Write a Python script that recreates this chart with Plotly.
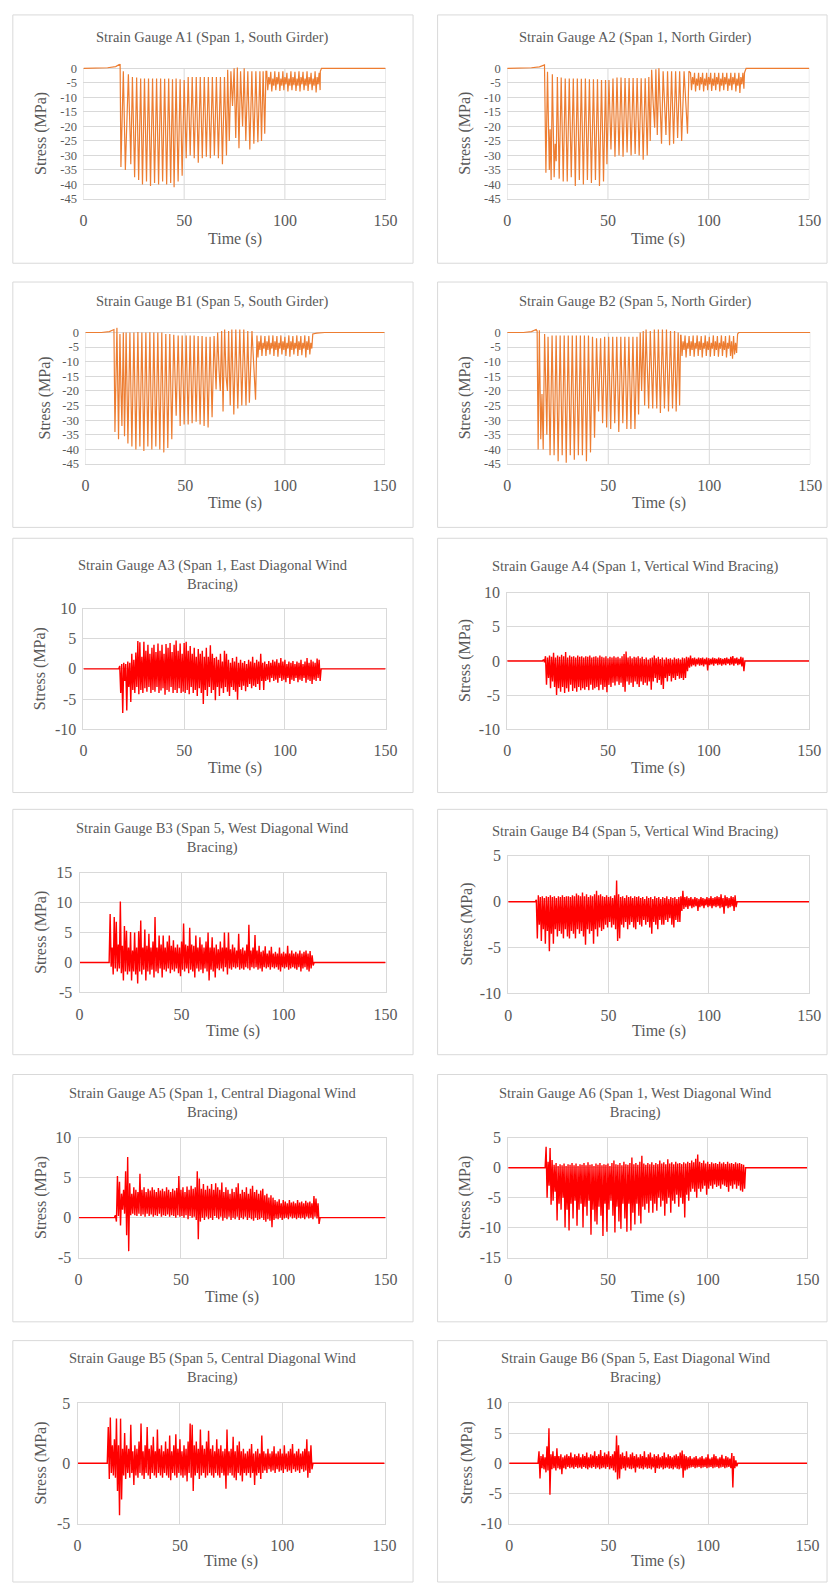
import plotly.graph_objects as go

W, H = 840, 1592
ORANGE = "#ED7D31"
RED = "#FF0000"
GRID = "#D9D9D9"
TXT = "#595959"
FONT = "'Liberation Serif', 'Times New Roman', Times, serif"

# ---------------- tick labels ----------------
x_tickvals = [0, 50, 100, 150]
x_ticktext = ["0", "50", "100", "150"]

# ---------------- girder gauges (vertex lists: time s, stress MPa) ----------------
a1_pts = [(0, 0), (8, 0), (12, 0.2), (16, 0.6), (18.2, 1.5), (18.6, -34), (19.8, -1), (20.8, -35),
          (21.6, -19), (22.3, -2), (23.2, -24), (23.5, -33), (24.3, -3), (25.4, -37.5), (26.4, -3.2),
          (27.4, -38.5), (28.4, -3.5), (29.3, -40), (30.3, -3.5), (31.3, -39), (32.3, -3.5), (33.3, -40.5),
          (34.3, -3.5), (35.3, -39.5), (36.3, -3.5), (37.3, -40), (38.3, -3.5), (39.3, -39), (40.3, -3.6),
          (41.3, -40), (42.3, -3.5), (43.3, -39.5), (44.2, -3.8), (45.0, -41), (46.0, -3.5), (47.0, -39),
          (48.0, -3.8), (49.0, -37), (50.0, -4), (51.0, -31), (52.0, -3), (53.0, -30), (54.0, -3),
          (55.0, -31), (56.0, -3), (57.0, -32.5), (58.0, -3), (59.0, -31), (60.0, -3), (61.0, -30.5),
          (62.0, -3), (63.0, -31), (64.0, -3), (65.0, -30), (66.0, -3), (67.0, -31), (68.0, -3),
          (69.0, -33), (70.0, -3), (71.0, -30), (71.6, -0.5), (72.4, -25), (73.2, -1), (74.0, -13),
          (74.8, 0), (75.6, -24), (76.4, 0.3), (77.2, -27.5), (78.0, -1), (79.0, -20), (79.8, 0),
          (80.6, -25), (81.6, -1), (82.6, -28), (83.6, -1), (84.6, -26), (85.6, -1), (86.6, -25.5),
          (87.6, -1), (88.4, -25), (89.2, -1), (90.0, -22.5), (90.6, -1)]
a1_tail_t0 = 91
a1_tail_hi = [-1, -3, -1.2, -3.5, -1, -3, -1.2, -3.5, -1, -3, -1.5, -3.5, -1, -3, -1.2, -3.5,
              -1, -3, -1.2, -3.5, -1, -3, -1.5, -3.5, -1, -3, -1.5]
a1_tail_lo = [-7.5, -5.5, -8, -6, -7.5, -5.5, -7.8, -6, -7.5, -5.5, -8, -6, -7.5, -5.8, -7.8, -6,
              -8, -5.5, -7.5, -6, -7.8, -5.5, -7.5, -6, -8.3, -5.5, -7.5]
a1_end = [(117.6, -1), (118.2, 0), (150, 0)]

a2_pts = [(0, 0), (10, 0), (12, 0.2), (16, 0.5), (18.5, 1.2), (19.2, -36), (20.0, -1.2), (20.9, -35),
          (21.3, -21), (21.8, -38.5), (22.4, -2), (23.3, -37.5), (23.8, -26), (24.3, -32), (24.9, -3),
          (25.8, -38), (26.8, -3.2), (27.8, -39), (28.8, -3.5), (29.8, -39), (30.8, -3.5), (31.8, -37.5),
          (32.8, -3.5), (33.8, -40.5), (34.8, -3.5), (35.8, -38.5), (36.8, -3.6), (37.8, -40), (38.8, -3.5),
          (39.8, -38.5), (40.8, -3.8), (41.8, -39.5), (42.8, -3.8), (43.8, -38.5), (44.8, -3.8),
          (45.8, -40.5), (46.8, -4), (47.8, -39), (48.8, -4), (49.5, -33), (50.5, -4), (51.5, -28),
          (52.5, -3.5), (53.5, -30.5), (54.5, -3.2), (55.5, -30), (56.5, -3.2), (57.5, -30.5),
          (58.5, -3.3), (59.5, -29), (60.5, -3.3), (61.5, -30), (62.5, -3.3), (63.5, -29.5), (64.5, -3.3),
          (65.5, -30), (66.5, -3.4), (67.5, -31.5), (68.5, -3.4), (69.5, -30), (70.3, -3), (71.0, -25),
          (71.7, -0.5), (72.5, -12.5), (73.2, -20.5), (73.8, -0.3), (74.5, -23), (75.3, 0), (76.0, -14.5),
          (76.6, -26), (77.4, -1), (78.2, -17), (78.8, -23), (79.6, -1), (80.6, -26.5), (81.6, -1),
          (82.6, -26), (83.6, -1), (84.6, -24), (85.6, -1), (86.6, -25), (87.8, -1), (89.5, -22.5),
          (90.2, -1)]
a2_tail_t0 = 91
a2_tail_hi = [-1.5, -3, -1.5, -3.5, -1.5, -3, -1.5, -3.5, -1.5, -3, -1.5, -3.5, -1.5, -3, -1.5, -3.5,
              -1.5, -3, -1.5, -3.5, -1.5, -3, -1.5, -3.5, -1.5, -3, -1.5]
a2_tail_lo = [-7.5, -5.5, -8, -6, -7.5, -5.5, -8, -6, -7.5, -5.5, -7.8, -6, -7.5, -5.5, -8, -6,
              -7.5, -5.5, -7.8, -6, -7.5, -5.5, -8, -6, -8.5, -5.5, -7]
a2_end = [(117.8, -1.5), (118.6, 0), (150, 0)]

b1_pts = [(0, 0), (8, 0), (12, 0.3), (14.3, 1.0), (14.8, -34), (15.4, 0.5), (15.8, 1.8), (16.6, -36.5),
          (17.3, -0.5), (17.8, -19), (18.3, -32), (19.0, 0), (19.6, -35.5), (19.9, -24), (20.4, 0),
          (21.3, -38), (22.3, 0), (23.3, -39), (24.3, 0), (25.3, -40), (26.3, 0.2), (27.3, -39), (28.3, 0),
          (29.3, -40.5), (30.3, 0), (31.3, -39), (32.3, 0.1), (33.3, -40), (34.3, 0), (35.3, -39),
          (36.3, 0), (37.3, -40), (38.3, 0), (39.3, -41), (40.3, -0.5), (41.3, -39.5), (42.3, -0.5),
          (43.3, -36.5), (44.3, -0.8), (45.5, -28.5), (46.5, -1), (47.5, -32), (48.5, -1), (49.5, -31.5),
          (50.5, -1), (51.5, -31.5), (52.5, -1), (53.5, -31), (54.5, -1), (55.5, -30.5), (56.5, -1.2),
          (57.5, -31.5), (58.5, -1.2), (59.5, -32), (60.5, -1.5), (61.5, -32.5), (62.5, -1.5),
          (63.5, -29), (64.5, -1.2), (65.5, -19.5), (66.3, 0), (67.0, -13), (67.6, -20), (68.3, 0.5),
          (69.0, -27), (69.8, 1), (70.5, -15), (71.2, -20), (71.8, 0.5), (72.6, -25), (73.4, 1),
          (74.4, -28), (75.4, 1), (76.4, -26), (77.4, 1), (78.4, -25), (79.4, 1), (80.5, -25),
          (81.4, 0.5), (82.2, -24), (83.5, 0.5), (85.3, -23), (85.8, -1)]
b1_tail_t0 = 86
b1_tail_hi = [-1, -3, -1, -3.5, -1.2, -3, -1, -3.5, -1, -3, -1.2, -3.5, -1, -3, -1.5, -3.5,
              -1, -3, -1.2, -3.5, -1, -3, -1.2, -3.5, -1, -3, -1.2, -3.5]
b1_tail_lo = [-8.5, -6, -8, -5.5, -8, -6, -7.5, -5.5, -8, -6, -8.3, -5.5, -7.5, -6, -8, -5.5,
              -8.3, -6, -7.5, -5.5, -8, -6, -7.8, -5.5, -8.5, -6, -7.5, -5.5]
b1_end = [(114, -0.5), (116, -0.2), (120, 0), (150, 0)]

b2_pts = [(0, 0), (8, 0), (12, 0.3), (14.3, 1.0), (14.8, 0.5), (15.3, -40), (15.9, 0.8), (16.6, -36.5),
          (17.2, -21), (17.8, -40), (18.5, -0.5), (19.2, -28), (19.6, -35), (20.2, -1.5), (21.2, -42),
          (22.2, -1), (23.2, -42), (24.2, -1), (25.2, -44), (26.2, -1), (27.2, -42), (28.2, -1),
          (29.2, -44.5), (30.2, -1), (31.2, -42), (32.2, -1), (33.2, -43.5), (34.2, -1), (35.2, -42),
          (36.2, -1), (37.2, -42), (38.2, -1), (39.2, -44), (40.2, -1), (41.2, -41), (42.2, -1.5),
          (43.2, -36), (44.2, -2), (45.2, -27), (46.2, -2), (47.2, -31), (48.2, -1.5), (49.2, -32.5),
          (50.2, -1.5), (51.2, -33), (52.2, -1.5), (53.2, -31), (54.2, -1.5), (55.2, -34), (56.2, -1.5),
          (57.2, -31), (58.2, -1.5), (59.2, -33), (60.2, -1.5), (61.2, -33), (62.2, -1.5), (63.2, -33),
          (64.2, -1.5), (65.0, -28), (65.8, 0), (66.5, -20), (67.3, 0.5), (68.0, -25), (68.7, 1),
          (69.3, -13), (70.0, -26), (70.8, 0.5), (71.5, -14), (72.0, -26), (72.8, 1), (73.5, -20),
          (74.0, -26), (74.8, 1), (75.8, -27.5), (76.8, 1), (77.8, -26), (78.8, 1), (79.8, -27),
          (80.8, 0.5), (81.8, -26), (82.8, 0.5), (83.6, -27), (84.6, 0), (85.3, -25), (85.8, -1)]
b2_tail_t0 = 86
b2_tail_hi = [-1, -3, -1, -3.5, -1.2, -3, -1, -3.5, -1, -3, -1.2, -3.5, -1, -3, -1.5, -3.5,
              -1, -3, -1.2, -3.5, -1, -3, -1.2, -3.5, -1, -3, -1.2, -3.5]
b2_tail_lo = [-8, -6, -8.5, -5.5, -8, -6, -8.3, -5.5, -8, -6, -8.5, -5.5, -8, -6, -8.3, -5.5,
              -8, -6, -8.3, -5.5, -8, -6, -8.5, -5.5, -8, -9, -7.5, -7]
b2_end = [(114, -0.5), (114.6, 0), (150, 0)]

# ---------------- bracing gauges: per-second peaks (hi) and troughs (lo) ----------------
a3_t0 = 18
a3_hi = [0.5, 0.8, 1.0, 0.8, 1.2, 1.0, 2.5, 1.5, 2.7, 4.6,
         4.4, 2.0, 4.5, 3.0, 4.0, 2.5, 3.5, 4.0, 2.8, 4.2,
         3.0, 4.0, 2.5, 4.1, 3.5, 4.3, 2.8, 4.0, 4.7, 3.0,
         4.2, 2.5, 4.3, 4.5, 3.0, 3.8, 2.5, 3.5, 2.0, 3.3,
         2.5, 3.0, 2.0, 3.5, 2.0, 3.9, 2.5, 1.8, 2.0, 1.5,
         2.5, 1.2, 3.0, 2.5, 1.5, 1.0, 1.8, 1.2, 2.0, 1.0,
         1.5, 1.0, 1.3, 0.8, 1.5, 1.2, 2.0, 1.0, 1.5, 1.2,
         2.5, 1.0, 1.2, 0.8, 1.3, 1.0, 1.5, 1.2, 1.6, 1.0,
         1.8, 1.2, 1.5, 0.8, 1.2, 1.0, 1.3, 0.8, 1.2, 1.0,
         1.5, 0.8, 1.2, 1.8, 1.0, 1.5, 1.2, 1.0, 1.7, 1.5]
a3_lo = [-4.0, -7.3, -2.0, -6.9, -3.0, -5.5, -3.5, -4.0, -3.0, -4.2,
         -3.5, -4.0, -3.2, -3.8, -3.0, -4.0, -3.5, -3.8, -3.0, -4.0,
         -3.6, -3.2, -4.3, -3.5, -3.8, -3.0, -4.0, -3.5, -4.0, -3.2,
         -4.0, -3.8, -4.0, -3.5, -4.2, -3.0, -4.0, -3.5, -4.5, -3.2,
         -4.0, -5.8, -3.5, -4.5, -3.0, -4.0, -3.5, -5.2, -3.0, -4.5,
         -3.2, -4.0, -3.0, -3.8, -4.5, -3.0, -3.5, -3.8, -5.1, -3.0,
         -3.5, -2.8, -3.7, -3.0, -2.5, -3.2, -2.8, -3.0, -2.5, -3.5,
         -2.0, -3.5, -2.0, -1.8, -2.2, -1.5, -2.0, -1.8, -2.3, -1.5,
         -2.0, -1.8, -2.2, -1.5, -2.5, -1.8, -2.0, -1.5, -2.2, -1.8,
         -2.0, -1.5, -2.3, -1.8, -2.0, -2.5, -1.8, -2.0, -1.5, -2.0]

a4_t0 = 18
a4_hi = [0.2, 0.7, 0.5, 0.8, 0.6, 1.2, 0.5, 0.8, 0.6, 0.9,
         0.7, 1.3, 0.5, 0.8, 0.6, 0.7, 0.5, 0.8, 0.6, 0.7,
         0.5, 0.7, 0.6, 0.8, 0.5, 0.6, 0.7, 0.5, 0.8, 0.6,
         0.5, 0.7, 0.4, 0.6, 0.5, 0.7, 0.5, 0.6, 0.4, 0.7,
         1.0, 1.4, 0.5, 0.7, 0.4, 0.6, 0.5, 0.7, 0.4, 0.6,
         0.3, 0.5, 0.2, 0.4, 0.5, 0.8, 0.4, 0.6, 0.3, 0.5,
         0.2, 0.5, 0.3, 0.4, 0.2, 0.5, 0.3, 0.4, 0.2, 0.5,
         0.4, 0.6, 0.5, 0.8, 0.4, 0.5, 0.3, 0.5, 0.4, 0.5,
         0.3, 0.5, 0.4, 0.3, 0.5, 0.4, 0.3, 0.5, 0.4, 0.3,
         0.4, 0.5, 0.3, 0.6, 0.7, 0.4, 0.5, 0.3, 0.6, 0.5]
a4_lo = [-0.2, -3.5, -2.5, -4.0, -3.0, -3.8, -5.0, -4.0, -4.5, -3.8,
         -4.7, -4.0, -4.5, -3.5, -4.4, -4.0, -4.5, -3.8, -4.3, -4.0,
         -4.2, -3.8, -4.3, -3.5, -4.2, -4.0, -3.8, -4.3, -3.5, -4.2,
         -3.8, -4.6, -3.5, -3.8, -3.2, -3.6, -3.0, -3.5, -3.2, -3.8,
         -4.5, -3.0, -3.5, -3.2, -3.8, -3.0, -3.4, -3.8, -3.0, -3.5,
         -3.2, -3.6, -3.0, -4.2, -3.0, -2.5, -3.2, -2.8, -3.5, -4.1,
         -2.5, -3.0, -2.2, -3.0, -2.5, -2.8, -2.2, -2.6, -2.5, -2.8,
         -2.5, -1.5, -1.0, -0.8, -0.6, -0.8, -0.5, -0.7, -0.6, -0.8,
         -0.5, -1.4, -0.6, -0.5, -0.7, -0.4, -0.6, -0.5, -0.7, -0.5,
         -0.6, -0.4, -0.6, -0.5, -0.7, -0.4, -0.6, -0.5, -0.8, -1.5]

b3_t0 = 15
b3_hi = [8.1, 2.5, 7.6, 6.8, 3.0, 10.2, 2.8, 6.1, 5.3, 2.5,
         5.1, 2.0, 5.0, 2.5, 5.2, 7.0, 2.5, 5.5, 2.8, 4.8,
         2.5, 3.5, 7.6, 2.5, 4.5, 3.0, 4.5, 2.5, 3.5, 4.5,
         2.8, 3.7, 2.5, 3.0, 2.5, 3.5, 6.5, 3.0, 2.8, 5.8,
         3.0, 2.8, 4.5, 2.5, 4.2, 3.0, 2.5, 3.5, 5.0, 2.5,
         4.2, 2.5, 3.0, 2.2, 3.5, 2.5, 5.0, 2.5, 5.0, 2.2,
         3.0, 2.5, 2.0, 4.8, 2.2, 2.5, 2.0, 3.0, 6.3, 2.0,
         2.5, 4.6, 2.0, 2.8, 1.8, 2.0, 2.7, 1.5, 2.0, 2.6,
         1.5, 1.8, 1.5, 2.5, 1.5, 1.8, 1.5, 2.8, 1.5, 2.0,
         1.5, 1.8, 1.5, 2.0, 1.5, 1.8, 2.0, 1.5, 1.9, 1.2]
b3_lo = [-0.7, -2.0, -1.0, -1.5, -1.0, -1.8, -3.0, -1.5, -2.0, -1.5,
         -3.0, -1.5, -2.0, -3.5, -1.5, -2.0, -1.2, -3.0, -1.5, -2.0,
         -1.2, -2.5, -1.5, -1.8, -1.0, -2.5, -1.2, -1.5, -1.0, -1.8,
         -1.2, -1.5, -1.0, -1.8, -2.3, -1.2, -1.5, -1.0, -1.8, -1.2,
         -1.5, -2.5, -1.0, -1.5, -1.2, -1.8, -1.0, -1.5, -3.0, -1.2,
         -1.5, -2.5, -1.0, -1.3, -1.0, -1.5, -0.8, -2.0, -1.0, -1.2,
         -0.8, -1.0, -0.8, -1.2, -1.0, -1.2, -0.8, -1.0, -1.3, -0.8,
         -1.0, -0.8, -1.2, -1.0, -1.5, -0.8, -1.0, -0.8, -1.2, -0.8,
         -1.0, -0.8, -1.2, -1.5, -0.8, -1.0, -0.8, -1.2, -1.0, -0.8,
         -1.0, -1.2, -0.8, -1.5, -1.0, -0.8, -1.2, -1.5, -1.0, -0.5]

b4_t0 = 14
b4_hi = [0.2, 0.7, 0.5, 0.6, 0.4, 0.6, 0.5, 0.7, 0.5, 0.6,
         0.4, 0.6, 0.5, 0.7, 0.5, 0.6, 0.6, 0.5, 0.7, 0.6,
         0.9, 0.7, 0.6, 1.0, 0.6, 0.8, 0.5, 0.7, 0.6, 0.8,
         1.2, 0.7, 0.8, 0.6, 0.5, 0.7, 0.5, 0.6, 0.4, 0.7,
         2.3, 0.8, 0.5, 0.6, 0.4, 0.7, 0.5, 0.6, 0.4, 0.6,
         0.5, 0.6, 0.4, 0.5, 0.3, 0.6, 0.4, 0.5, 0.3, 0.6,
         0.4, 0.5, 0.3, 0.5, 0.4, 0.6, 0.3, 0.5, 0.4, 0.5,
         0.3, 0.5, 0.6, 1.2, 0.5, 0.6, 0.4, 0.5, 0.3, 0.5,
         0.4, 0.3, 0.5, 0.4, 0.3, 0.5, 0.4, 0.6, 0.4, 0.5,
         0.6, 0.5, 0.8, 0.4, 0.7, 0.5, 0.4, 0.6, 0.5, 0.7]
b4_lo = [-4.0, -2.5, -4.3, -3.0, -4.6, -3.2, -5.4, -3.5, -4.6, -3.0,
         -3.8, -3.2, -3.5, -4.0, -3.0, -3.8, -4.0, -3.2, -3.5, -4.0,
         -3.0, -3.5, -3.2, -3.8, -4.7, -3.0, -3.5, -3.2, -4.6, -3.0,
         -3.8, -2.8, -3.2, -3.0, -2.5, -2.8, -2.2, -2.8, -2.5, -3.0,
         -4.3, -4.0, -2.5, -2.8, -2.2, -3.0, -2.5, -2.2, -2.8, -3.0,
         -2.2, -2.5, -2.7, -2.0, -2.5, -2.2, -2.8, -3.5, -2.2, -2.5,
         -3.0, -2.0, -2.5, -2.5, -2.0, -2.2, -1.8, -2.5, -2.8, -2.0,
         -2.2, -2.2, -1.0, -0.8, -0.6, -0.8, -0.5, -0.7, -0.6, -0.5,
         -1.0, -0.6, -0.5, -0.7, -0.4, -0.6, -0.5, -0.7, -0.5, -0.6,
         -0.5, -0.7, -0.6, -1.3, -0.5, -0.7, -0.6, -0.5, -1.0, -0.6]

a5_t0 = 18
a5_hi = [0.3, 5.2, 4.5, 3.0, 3.5, 5.8, 7.6, 4.3, 3.0, 3.8,
         3.5, 3.2, 5.5, 3.5, 3.8, 3.2, 3.6, 3.4, 3.8, 3.5,
         3.2, 3.7, 3.4, 3.6, 3.3, 3.8, 3.5, 3.2, 3.6, 3.4,
         3.7, 5.2, 3.5, 3.8, 3.2, 3.9, 3.5, 4.0, 3.6, 3.8,
         5.8, 4.9, 3.6, 4.2, 3.5, 4.0, 3.6, 4.2, 3.5, 4.3,
         3.8, 3.5, 4.4, 3.2, 3.8, 3.5, 3.0, 3.6, 3.2, 3.8,
         4.3, 3.0, 3.5, 3.2, 3.8, 3.0, 3.6, 4.0, 3.2, 3.5,
         3.0, 3.4, 3.6, 2.8, 3.0, 2.5, 2.8, 2.5, 2.2, 2.0,
         2.3, 1.8, 2.2, 2.0, 1.8, 2.2, 1.9, 2.0, 1.8, 2.2,
         1.9, 2.0, 1.8, 2.1, 1.9, 2.0, 1.8, 2.7, 2.4, 1.8]
a5_lo = [-0.5, 0.2, -1.0, 1.0, 0.5, -2.2, -4.2, 0.3, 0.5, 0.3,
         0.2, 0.5, 0.2, 0.4, 0.1, 0.5, 0.2, 0.4, 0.1, 0.3,
         0.2, 0.5, 0.1, 0.3, 0.2, 0.4, 0.1, 0.3, 0.2, 0.0,
         0.3, 0.1, 0.2, 0.0, 0.3, -0.2, 0.2, 0.0, 0.1, -0.3,
         -2.7, -0.5, 0.0, -0.3, 0.1, -0.2, 0.0, -0.3, 0.2, 0.0,
         -0.2, 0.1, -0.4, 0.0, -0.2, 0.1, -0.3, 0.0, -0.2, 0.1,
         -0.3, 0.0, -0.2, 0.1, -0.3, 0.0, -0.2, -0.4, 0.0, -0.3,
         -0.2, 0.0, -0.3, -0.5, -0.2, -0.4, -1.2, -0.3, -0.1, -0.2,
         0.0, -0.3, -0.1, 0.0, -0.2, 0.1, -0.1, 0.0, -0.2, 0.0,
         -0.1, 0.0, -0.2, 0.1, -0.1, 0.0, -0.2, 0.1, -0.1, -0.8]

a6_t0 = 19
a6_hi = [3.5, 1.0, 3.3, 1.3, 0.5, 0.8, 0.3, 0.6, 0.4, 0.7,
         0.3, 0.6, 0.5, 0.8, 0.4, 0.7, 0.3, 0.6, 0.5, 0.8,
         0.4, 0.9, 0.5, 0.6, 0.3, 0.7, 0.5, 0.8, 0.4, 0.6,
         0.5, 0.7, 0.3, 0.8, 1.2, 0.6, 0.5, 0.8, 0.4, 1.0,
         0.6, 0.5, 0.8, 1.7, 0.6, 0.8, 0.5, 1.0, 2.0, 0.7,
         0.5, 0.8, 0.6, 0.9, 0.5, 0.8, 0.6, 1.2, 0.7, 0.9,
         0.6, 1.4, 0.7, 0.9, 0.6, 1.0, 0.7, 0.8, 0.6, 0.9,
         0.7, 1.0, 0.8, 1.2, 0.9, 1.5, 2.2, 1.0, 0.8, 1.2,
         0.7, 1.0, 0.6, 0.9, 0.7, 0.8, 0.6, 1.0, 0.7, 0.9,
         0.6, 1.0, 0.7, 0.8, 0.6, 0.9, 0.7, 0.8, 0.6, 0.5]
a6_lo = [-5.0, -3.0, -6.2, -5.5, -4.0, -8.8, -6.0, -7.0, -5.0, -10.0,
         -7.0, -10.5, -6.0, -8.5, -5.5, -9.7, -7.0, -6.0, -10.0, -6.5,
         -8.0, -5.5, -11.2, -7.0, -9.0, -9.5, -6.5, -8.0, -11.4, -6.0,
         -10.7, -7.0, -5.5, -8.0, -10.8, -6.5, -9.0, -10.2, -6.0, -8.5,
         -10.7, -6.0, -10.5, -7.5, -9.5, -6.0, -8.0, -9.3, -6.5, -7.0,
         -6.0, -7.5, -5.5, -7.5, -6.0, -7.2, -5.0, -6.5, -5.5, -8.0,
         -6.0, -5.0, -7.5, -5.5, -6.0, -4.5, -6.5, -5.0, -6.0, -8.3,
         -4.5, -5.5, -4.0, -3.5, -4.0, -5.0, -3.5, -4.0, -3.5, -3.0,
         -4.5, -3.5, -3.0, -3.5, -2.8, -3.2, -3.0, -3.5, -2.8, -3.0,
         -3.2, -4.0, -3.0, -3.5, -2.8, -3.5, -3.0, -3.8, -4.0, -3.5]

b5_t0 = 15
b5_hi = [3.0, 3.8, 1.5, 2.0, 3.7, 1.5, 3.7, 1.2, 2.5, 1.5,
         1.2, 3.2, 1.0, 1.5, 1.2, 1.8, 3.3, 1.0, 1.5, 3.0,
         1.2, 1.5, 2.2, 1.0, 2.8, 1.2, 1.5, 1.0, 1.8, 1.2,
         2.3, 1.0, 1.5, 2.4, 1.2, 2.0, 1.0, 1.5, 1.2, 1.8,
         3.3, 3.2, 1.5, 1.8, 1.2, 2.8, 1.5, 1.2, 1.8, 2.7,
         1.2, 1.5, 1.0, 2.0, 1.2, 1.5, 1.0, 1.2, 2.8, 1.0,
         1.2, 2.2, 1.0, 1.5, 1.8, 1.0, 1.2, 0.8, 1.0, 1.2,
         1.6, 0.8, 1.0, 1.2, 0.8, 2.3, 1.0, 0.8, 1.2, 0.8,
         1.0, 1.4, 0.8, 1.0, 1.2, 0.8, 1.5, 0.8, 1.0, 1.2,
         1.6, 0.8, 1.0, 1.2, 0.8, 1.0, 1.2, 2.0, 1.0, 1.5]
b5_lo = [-1.3, -0.8, -1.0, -1.2, -2.3, -4.3, -3.0, -1.0, -1.3, -0.8,
         -1.2, -0.8, -1.8, -1.0, -1.2, -0.8, -1.0, -1.3, -0.8, -1.0,
         -1.3, -0.8, -1.0, -1.2, -0.8, -1.0, -1.2, -0.8, -1.0, -1.2,
         -1.4, -0.8, -1.0, -1.2, -0.8, -1.0, -1.2, -1.0, -1.5, -0.8,
         -1.2, -2.3, -1.0, -0.8, -1.3, -1.0, -0.8, -1.2, -1.0, -0.8,
         -1.0, -1.2, -0.8, -1.0, -1.2, -0.8, -1.0, -2.1, -1.0, -0.8,
         -1.0, -1.2, -1.4, -0.8, -1.0, -1.5, -0.8, -1.0, -0.8, -1.2,
         -0.8, -1.8, -1.0, -0.8, -1.3, -0.8, -0.6, -0.8, -0.5, -0.7,
         -0.6, -0.8, -0.5, -0.7, -0.6, -0.8, -0.5, -0.7, -0.6, -0.8,
         -0.5, -0.7, -0.6, -0.8, -0.5, -0.7, -0.6, -1.2, -0.8, -0.5]

b6_t0 = 15
b6_hi = [2.0, 1.2, 1.5, 1.0, 2.8, 5.8, 1.5, 2.0, 1.2, 2.5,
         1.2, 1.5, 1.0, 1.3, 1.5, 1.2, 1.8, 1.0, 1.5, 1.2,
         1.6, 1.0, 1.5, 1.2, 1.8, 1.0, 1.5, 1.3, 2.0, 1.2,
         1.5, 2.2, 1.2, 1.8, 1.5, 2.0, 1.2, 1.5, 2.0, 4.6,
         3.0, 1.5, 1.8, 1.2, 2.0, 1.0, 1.5, 1.8, 1.2, 1.5,
         1.0, 1.5, 1.2, 2.0, 1.0, 1.5, 1.8, 1.0, 1.5, 1.2,
         1.5, 1.0, 1.2, 1.8, 1.0, 1.5, 1.2, 1.0, 1.3, 1.5,
         1.2, 1.8, 2.1, 1.5, 1.2, 1.0, 1.2, 0.8, 1.0, 1.2,
         0.8, 1.0, 1.2, 0.8, 1.0, 1.5, 0.8, 1.0, 1.5, 1.2,
         0.8, 1.0, 1.4, 0.8, 1.2, 1.0, 0.8, 1.7, 1.2, 0.5]
b6_lo = [-2.5, -0.8, -1.0, -1.5, -1.2, -5.2, -1.0, -0.8, -1.2, -0.8,
         -1.0, -1.8, -0.8, -1.0, -0.6, -0.8, -0.7, -0.9, -0.6, -0.8,
         -0.7, -0.9, -0.6, -0.8, -1.0, -0.7, -0.8, -0.6, -0.9, -0.7,
         -1.0, -0.8, -0.7, -0.9, -0.6, -1.0, -0.8, -1.2, -1.5, -2.7,
         -2.5, -1.0, -0.8, -1.2, -0.7, -0.9, -1.0, -0.8, -1.5, -0.7,
         -0.9, -0.8, -1.0, -0.7, -0.9, -0.8, -1.0, -0.7, -1.6, -0.8,
         -0.9, -0.7, -1.0, -0.8, -0.7, -0.9, -0.8, -1.0, -0.7, -0.9,
         -1.0, -0.8, -2.4, -1.2, -1.0, -0.8, -0.7, -0.6, -0.8, -0.7,
         -0.6, -0.8, -0.7, -0.6, -0.8, -0.7, -0.6, -0.8, -0.7, -0.6,
         -0.8, -0.7, -0.6, -0.8, -0.7, -0.6, -0.8, -4.0, -0.8, -0.5]


def zigzag(t0, hi, lo):
    t, v = [], []
    for i, (h, l) in enumerate(zip(hi, lo)):
        t.extend([t0 + i, t0 + i + 0.5])
        v.extend([h, l])
    return t, v


def girder(pts, t0, hi, lo, end):
    zt, zv = zigzag(t0, hi, lo)
    return ([p[0] for p in pts] + zt + [p[0] for p in end],
            [p[1] for p in pts] + zv + [p[1] for p in end])


def bracing(t0, hi, lo):
    zt, zv = zigzag(t0, hi, lo)
    tend = t0 + len(hi)
    return [0, t0 - 0.5] + zt + [tend, 150], [0, 0] + zv + [0, 0]


# ---------------- panel layout (pixel geometry) ----------------
LEFT_BOX = (9, 417)
RIGHT_BOX = (442, 839)
GIRDER_HEADROOM = 1.6   # MPa of room above the 0 gridline so the trace is not clipped
panels = [
    dict(title="Strain Gauge A1 (Span 1, South Girder)", data=girder(a1_pts, a1_tail_t0, a1_tail_hi, a1_tail_lo, a1_end),
         color=ORANGE, yr=(-45, 0), dt=5, plot=(81, 389, 61, 193), box=LEFT_BOX + (7, 258), ty=30, xt=233, yt=37),
    dict(title="Strain Gauge A2 (Span 1, North Girder)", data=girder(a2_pts, a2_tail_t0, a2_tail_hi, a2_tail_lo, a2_end),
         color=ORANGE, yr=(-45, 0), dt=5, plot=(513, 821, 61, 193), box=RIGHT_BOX + (7, 258), ty=30, xt=233, yt=470),
    dict(title="Strain Gauge B1 (Span 5, South Girder)", data=girder(b1_pts, b1_tail_t0, b1_tail_hi, b1_tail_lo, b1_end),
         color=ORANGE, yr=(-45, 0), dt=5, plot=(83, 388, 328, 461), box=LEFT_BOX + (277, 525), ty=297, xt=500, yt=42),
    dict(title="Strain Gauge B2 (Span 5, North Girder)", data=girder(b2_pts, b2_tail_t0, b2_tail_hi, b2_tail_lo, b2_end),
         color=ORANGE, yr=(-45, 0), dt=5, plot=(513, 822, 328, 461), box=RIGHT_BOX + (277, 525), ty=297, xt=500, yt=470),
    dict(title="Strain Gauge A3 (Span 1, East Diagonal Wind<br>Bracing)", data=bracing(a3_t0, a3_hi, a3_lo),
         color=RED, yr=(-10, 10), dt=5, plot=(81, 389, 607, 729), box=LEFT_BOX + (536, 793), ty=573, xt=768, yt=37),
    dict(title="Strain Gauge A4 (Span 1, Vertical Wind Bracing)", data=bracing(a4_t0, a4_hi, a4_lo),
         color=RED, yr=(-10, 10), dt=5, plot=(513, 821, 591, 729), box=RIGHT_BOX + (536, 793), ty=565, xt=768, yt=470),
    dict(title="Strain Gauge B3 (Span 5, West Diagonal Wind<br>Bracing)", data=bracing(b3_t0, b3_hi, b3_lo),
         color=RED, yr=(-5, 15), dt=5, plot=(77, 389, 874, 995), box=LEFT_BOX + (810, 1058), ty=839, xt=1034, yt=37),
    dict(title="Strain Gauge B4 (Span 5, Vertical Wind Bracing)", data=bracing(b4_t0, b4_hi, b4_lo),
         color=RED, yr=(-10, 5), dt=5, plot=(514, 821, 857, 996), box=RIGHT_BOX + (810, 1058), ty=832, xt=1034, yt=472),
    dict(title="Strain Gauge A5 (Span 1, Central Diagonal Wind<br>Bracing)", data=bracing(a5_t0, a5_hi, a5_lo),
         color=RED, yr=(-5, 10), dt=5, plot=(76, 389, 1142, 1263), box=LEFT_BOX + (1078, 1328), ty=1107, xt=1303, yt=37),
    dict(title="Strain Gauge A6 (Span 1, West Diagonal Wind<br>Bracing)", data=bracing(a6_t0, a6_hi, a6_lo),
         color=RED, yr=(-15, 5), dt=5, plot=(514, 819, 1142, 1263), box=RIGHT_BOX + (1078, 1328), ty=1107, xt=1303, yt=470),
    dict(title="Strain Gauge B5 (Span 5, Central Diagonal Wind<br>Bracing)", data=bracing(b5_t0, b5_hi, b5_lo),
         color=RED, yr=(-5, 5), dt=5, plot=(75, 388, 1410, 1532), box=LEFT_BOX + (1347, 1591), ty=1375, xt=1570, yt=38),
    dict(title="Strain Gauge B6 (Span 5, East Diagonal Wind<br>Bracing)", data=bracing(b6_t0, b6_hi, b6_lo),
         color=RED, yr=(-10, 10), dt=5, plot=(515, 819, 1410, 1532), box=RIGHT_BOX + (1347, 1591), ty=1375, xt=1570, yt=472),
]


def px_x(x):
    return x / W


def px_y(y):
    return 1 - y / H


fig = go.Figure()
shapes, annotations = [], []
layout = {}
for i, p in enumerate(panels):
    n = "" if i == 0 else str(i + 1)
    x0, x1, yt, yb = p["plot"]
    t, v = p["data"]
    is_girder = p["color"] == ORANGE
    lw = 1.2 if is_girder else 1.4
    fig.add_trace(go.Scatter(x=t, y=v, mode="lines", line=dict(color=p["color"], width=lw),
                             xaxis="x" + n, yaxis="y" + n, showlegend=False, hoverinfo="skip"))
    ylo, yhi = p["yr"]
    yvals = list(range(ylo, yhi + 1, p["dt"]))
    common = dict(gridcolor=GRID, gridwidth=1, zeroline=False, linecolor=GRID, linewidth=1,
                  ticks="outside", tickcolor="rgba(0,0,0,0)", fixedrange=True)
    if is_girder:
        # extra headroom above the top (0) gridline; frame drawn as shapes from -45 to 0
        per_unit = (yb - yt) / (yhi - ylo)
        top_px = yt - GIRDER_HEADROOM * per_unit
        yrange = [ylo, yhi + GIRDER_HEADROOM]
        layout["xaxis" + n] = dict(common, domain=[px_x(x0), px_x(x1)], range=[0, 150], anchor="y" + n,
                                   showgrid=False, showline=True, mirror=False,
                                   tickmode="array", tickvals=x_tickvals, ticktext=x_ticktext, ticklen=7,
                                   tickfont=dict(family=FONT, size=16, color=TXT))
        layout["yaxis" + n] = dict(common, domain=[px_y(yb), px_y(top_px)], range=yrange, anchor="x" + n,
                                   showgrid=True, showline=False, mirror=False,
                                   tickmode="array", tickvals=yvals, ticktext=[str(y) for y in yvals], ticklen=3,
                                   tickfont=dict(family=FONT, size=12.5, color=TXT))
        for xv in x_tickvals:
            shapes.append(dict(type="line", xref="x" + n, yref="y" + n, x0=xv, x1=xv, y0=ylo, y1=yhi,
                               line=dict(color=GRID, width=1), layer="below"))
    else:
        layout["xaxis" + n] = dict(common, domain=[px_x(x0), px_x(x1)], range=[0, 150], anchor="y" + n,
                                   showgrid=True, showline=True, mirror=True,
                                   tickmode="array", tickvals=x_tickvals, ticktext=x_ticktext, ticklen=7,
                                   tickfont=dict(family=FONT, size=16, color=TXT))
        layout["yaxis" + n] = dict(common, domain=[px_y(yb), px_y(yt)], range=[ylo, yhi], anchor="x" + n,
                                   showgrid=True, showline=True, mirror=True,
                                   tickmode="array", tickvals=yvals, ticktext=[str(y) for y in yvals], ticklen=3,
                                   tickfont=dict(family=FONT, size=16, color=TXT))
    bx0, bx1, by0, by1 = p["box"]
    shapes.append(dict(type="rect", xref="paper", yref="paper", x0=px_x(bx0), x1=px_x(bx1),
                       y0=px_y(by1), y1=px_y(by0), line=dict(color=GRID, width=1), fillcolor="rgba(0,0,0,0)"))
    annotations.append(dict(text=p["title"], xref="paper", yref="paper", x=px_x(213 if bx0 < 400 else 644),
                            y=px_y(p["ty"]), xanchor="center", yanchor="middle", showarrow=False,
                            font=dict(family=FONT, size=14.5, color=TXT)))
    annotations.append(dict(text="Time (s)", xref="paper", yref="paper", x=px_x((x0 + x1) / 2),
                            y=px_y(p["xt"]), xanchor="center", yanchor="middle", showarrow=False,
                            font=dict(family=FONT, size=16, color=TXT)))
    annotations.append(dict(text="Stress (MPa)", xref="paper", yref="paper", x=px_x(p["yt"]),
                            y=px_y((yt + yb) / 2), xanchor="center", yanchor="middle", showarrow=False,
                            textangle=-90, font=dict(family=FONT, size=16, color=TXT)))

fig.update_layout(width=W, height=H, margin=dict(l=0, r=0, t=0, b=0), paper_bgcolor="white",
                  plot_bgcolor="white", shapes=shapes, annotations=annotations,
                  font=dict(family=FONT, color=TXT), **layout)
fig.write_html("out.html")
